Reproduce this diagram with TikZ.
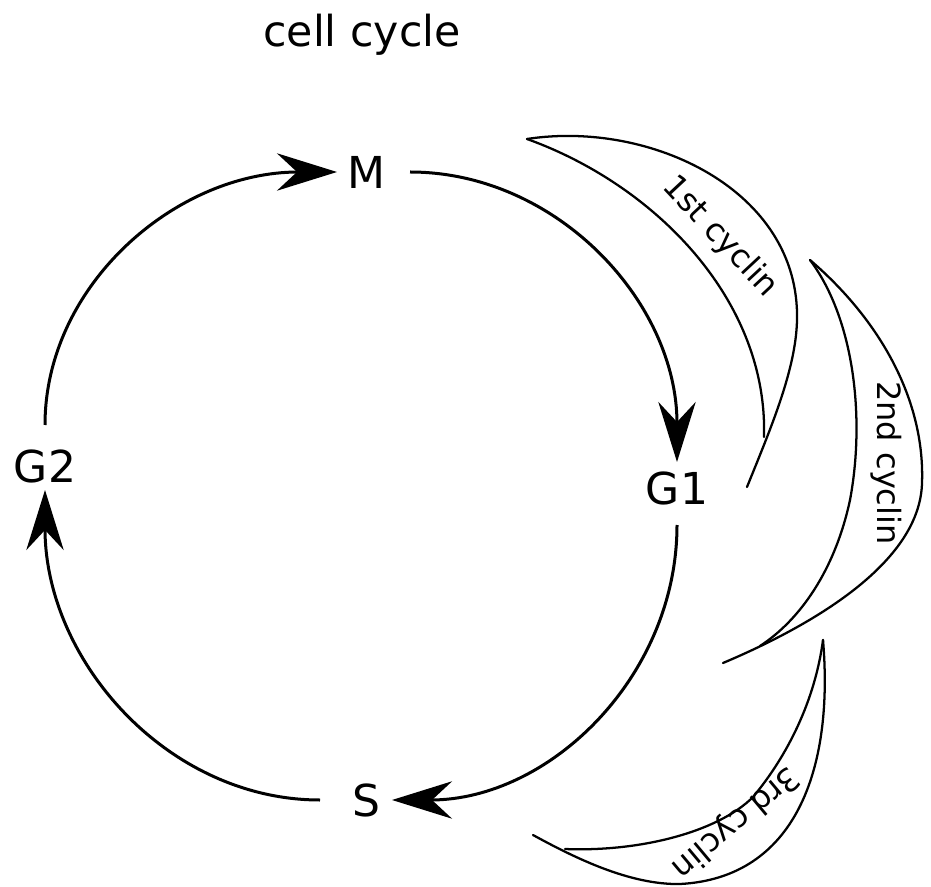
\documentclass[tikz,border=0pt]{standalone}
\usepackage{fontspec}
\setmainfont{DejaVu Sans}
\usetikzlibrary{arrows.meta}
\begin{document}
\begin{tikzpicture}[x=0.75pt,y=-0.75pt,
  lab/.style={inner sep=0pt, outer sep=0pt, font=\fontsize{33}{36}\selectfont},
  ttl/.style={inner sep=0pt, font=\fontsize{32}{36}\selectfont},
  cyc/.style={inner sep=0pt, font=\fontsize{24}{28}\selectfont},
  flow/.style={line width=2.25pt, -{Stealth[length=45pt,width=28pt,inset=15pt]}},
  cres/.style={line width=1.7pt, line join=round, line cap=round}]
\useasboundingbox (0,0) rectangle (931,887);
\node[ttl] (title) at (362,35) {cell cycle};
\node[lab] (M) at (366,172) {M};
\node[lab] (G1) at (677,488) {G1};
\node[lab] (S) at (366,800) {S};
\node[lab] (G2) at (45,466) {G2};
\draw[flow, shorten <=30.75pt, shorten >=21.75pt]
  (G2.center) to[out=90,in=180,out distance=135.75pt,in distance=142.5pt] (M.center);
\draw[flow, shorten <=33pt, shorten >=19.5pt]
  (M.center) to[out=0,in=90,out distance=143pt,in distance=139.5pt] (G1.center);
\draw[flow, shorten <=27.75pt, shorten >=19.5pt]
  (G1.center) to[out=-90,in=0,out distance=141.75pt,in distance=137.25pt] (S.center);
\draw[flow, shorten <=34.5pt, shorten >=18pt]
  (S.center) to[out=180,in=-90,out distance=148.5pt,in distance=146.25pt] (G2.center);
% 1st cyclin crescent
\draw[cres] (527,139) .. controls (650,120) and (800,190) .. (797,320)
  .. controls (796,370) and (770,430) .. (747,487);
\draw[cres] (527,139) .. controls (655,185) and (768,300) .. (764,437);
\node[cyc, rotate=-47] (c1) at (720,237) {1st cyclin};
% 2nd cyclin crescent
\draw[cres] (810,260) .. controls (880,320) and (925,400) .. (922,483)
  .. controls (920,560) and (820,622) .. (723,663);
\draw[cres] (810,260) .. controls (855,320) and (865,420) .. (850,500)
  .. controls (835,570) and (800,620) .. (760,646);
\node[cyc, rotate=-90] (c2) at (886,463) {2nd cyclin};
% 3rd cyclin crescent
\draw[cres] (823,640) .. controls (834,770) and (795,878) .. (680,884)
  .. controls (630,885) and (575,858) .. (533,835);
\draw[cres] (823,640) .. controls (815,700) and (788,755) .. (753,797)
  .. controls (718,832) and (640,852) .. (565,849);
\node[cyc, rotate=220] (c3) at (735,822) {3rd cyclin};
\end{tikzpicture}
\end{document}
